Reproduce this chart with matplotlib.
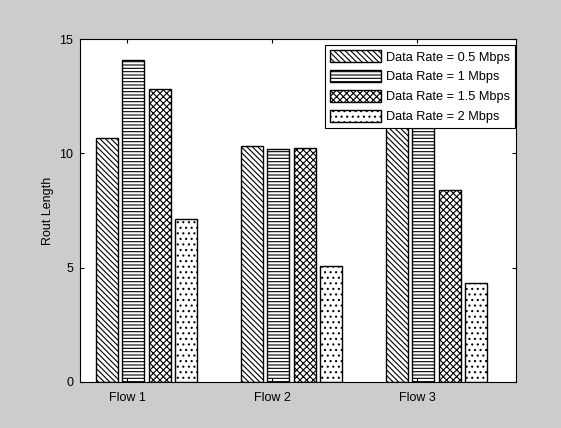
import numpy as np
import matplotlib
matplotlib.use('Agg')
import matplotlib.pyplot as plt

plt.rcParams['font.family'] = ['Liberation Sans', 'DejaVu Sans']
plt.rcParams['hatch.linewidth'] = 0.8

flows = ['Flow 1', 'Flow 2', 'Flow 3']
rates = ['Data Rate = 0.5 Mbps', 'Data Rate = 1 Mbps', 'Data Rate = 1.5 Mbps', 'Data Rate = 2 Mbps']
rate_05 = [10.68, 10.32, 11.6]
rate_1 = [14.08, 10.19, 11.1]
rate_15 = [12.8, 10.23, 8.4]
rate_2 = [7.15, 5.07, 4.33]
series = [rate_05, rate_1, rate_15, rate_2]
hatches = ['\\\\\\\\\\\\', '-----', 'xxxxx', '...']

fig = plt.figure(figsize=(5.61, 4.28), dpi=100, facecolor='#cccccc')
ax = fig.add_axes([80 / 561, 46 / 428, 436 / 561, 343 / 428])

x = np.arange(1, len(flows) + 1)
offsets = [-0.14, 0.043, 0.226, 0.407]
width = 0.15
for vals, off, h, lab in zip(series, offsets, hatches, rates):
    ax.bar(x + off, vals, width, color='white', edgecolor='black',
           linewidth=1.0, hatch=h, label=lab)

ax.set_xlim(0.676, 3.683)
ax.set_ylim(0, 15)
ax.set_yticks([0, 5, 10, 15])
ax.set_xticks(x)
ax.set_xticklabels(flows)
ax.tick_params(direction='in', length=3, labelsize=9, top=True, right=True, width=0.8)
ax.tick_params(axis='x', pad=7)
ax.tick_params(axis='y', pad=5)
ax.set_ylabel('Rout Length', fontsize=9, labelpad=4)
for s in ax.spines.values():
    s.set_linewidth(0.8)

leg = ax.legend(loc='upper right', bbox_to_anchor=(0.998, 1 - 6 / 343),
                fontsize=9.2, fancybox=False, framealpha=1,
                edgecolor='black', handlelength=4.0, handleheight=1.1,
                borderaxespad=0, labelspacing=0.5, handletextpad=0.4,
                borderpad=0.4)
leg.get_frame().set_linewidth(0.8)

fig.savefig('out.png', dpi=100, facecolor=fig.get_facecolor())
